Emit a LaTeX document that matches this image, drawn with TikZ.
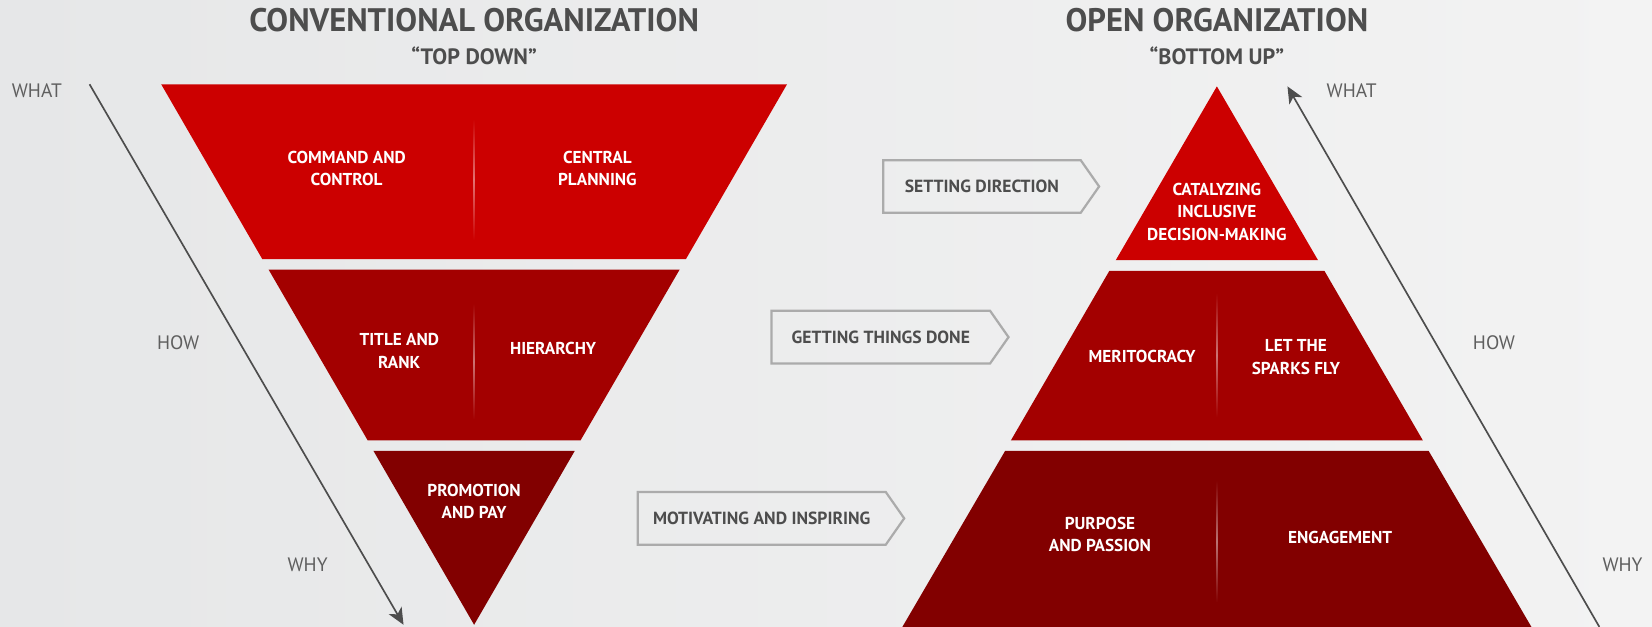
\documentclass[tikz,border=0pt]{standalone}
\usepackage{fontspec}
\setmainfont{PT Sans}
\usetikzlibrary{arrows.meta, calc, positioning, shapes.symbols}

\definecolor{bgleft}{HTML}{E6E7E8}
\definecolor{bgright}{HTML}{F3F3F3}
\definecolor{redtop}{HTML}{CC0000}
\definecolor{redmid}{HTML}{A30000}
\definecolor{redlow}{HTML}{820000}
\definecolor{inkgray}{HTML}{4D4D4D}
\definecolor{boxgray}{HTML}{ABABAB}

\begin{document}
\begin{tikzpicture}[x=0.02cm, y=0.02cm,
  layer/.style={font=\bfseries\fontsize{9.3}{12}\selectfont, text=white, align=center},
  title/.style={font=\bfseries\fontsize{17.6}{20}\selectfont, text=inkgray},
  subtitle/.style={font=\bfseries\fontsize{12}{14}\selectfont, text=inkgray},
  side/.style={font=\fontsize{10.5}{12}\selectfont, text=inkgray!90},
  flow/.style={signal, signal to=east, signal pointer angle=110, draw=boxgray,
    line width=1.2pt, minimum height=1cm, inner xsep=0pt,
    font=\bfseries\fontsize{9.5}{10}\selectfont, text=inkgray},
  guide/.style={draw=inkgray, line width=0.9pt,
    -{Stealth[length=9pt, width=8pt, inset=2.5pt]}}]
  % background
  \useasboundingbox (0,0) rectangle (1568,595);
  \shade[left color=bgleft, right color=bgright] (0,0) rectangle (1568,595);

  % conventional organization, upside down
  \fill[redtop] (153,515) -- (747,515) -- (651,349) -- (249,349) -- cycle;
  \fill[redmid] (255,339) -- (645,339) -- (551,177) -- (349,177) -- cycle;
  \fill[redlow] (354.5,167) -- (545.5,167) -- (450,2) -- cycle;
  \shade[top color=redtop, bottom color=redtop, middle color=redtop!55!white] (449.4,367) rectangle (450.6,482);
  \shade[top color=redmid, bottom color=redmid, middle color=redmid!55!white] (449.4,197) rectangle (450.6,307);

  % open organization
  \fill[redtop] (1155,513) -- (1251,348) -- (1059,348) -- cycle;
  \fill[redmid] (1053,338) -- (1257,338) -- (1350.5,177) -- (959.5,177) -- cycle;
  \fill[redlow] (954,167) -- (1356,167) -- (1453.5,0) -- (856.5,0) -- cycle;
  \shade[top color=redmid, bottom color=redmid, middle color=redmid!55!white] (1154.4,199) rectangle (1155.6,317);
  \shade[top color=redlow, bottom color=redlow, middle color=redlow!55!white] (1154.4,23) rectangle (1155.6,139);

  % titles
  \node[title] (conv) at (450,576) {CONVENTIONAL ORGANIZATION};
  \node[subtitle] (topdown) at (450,542) {“TOP DOWN”};
  \node[title] (open) at (1155,576) {OPEN ORGANIZATION};
  \node[subtitle] (bottomup) at (1155,542) {“BOTTOM UP”};

  % layer texts
  \node[layer] (command) at (329,435) {COMMAND AND\\CONTROL};
  \node[layer] (central) at (567,435) {CENTRAL\\PLANNING};
  \node[layer] (rank) at (379,262) {TITLE AND\\RANK};
  \node[layer] (hierarchy) at (525,264) {HIERARCHY};
  \node[layer] (promotion) at (450,119) {PROMOTION\\AND PAY};
  \node[layer] (catalyze) at (1155,394) {CATALYZING\\INCLUSIVE\\DECISION-MAKING};
  \node[layer] (merit) at (1084,257) {MERITOCRACY};
  \node[layer] (sparks) at (1230,256) {LET THE\\SPARKS FLY};
  \node[layer] (purpose) at (1044,88) {PURPOSE\\AND PASSION};
  \node[layer] (engage) at (1272,85) {ENGAGEMENT};

  % what / how / why
  \coordinate (lstart) at (85,515);
  \coordinate (lend) at (383,2);
  \draw[guide] (lstart) -- (lend);
  \node[side] (lwhat) at (35,509) {WHAT};
  \node[side] (lhow) at (169,270) {HOW};
  \node[side] (lwhy) at (292,59) {WHY};
  \coordinate (rstart) at (1518,0);
  \coordinate (rend) at (1222,513);
  \draw[guide] (rstart) -- (rend);
  \node[side] (rwhat) at (1283,509) {WHAT};
  \node[side] (rhow) at (1418,270) {HOW};
  \node[side] (rwhy) at (1540,59) {WHY};

  % middle arrows
  \node[flow, minimum width=4.1cm] (direction) at (932,418) {SETTING DIRECTION};
  \node[flow, minimum width=4.5cm] (done) at (836,275) {GETTING THINGS DONE};
  \node[flow, minimum width=5.06cm] (inspire) at (723,103) {MOTIVATING AND INSPIRING};
\end{tikzpicture}
\end{document}
